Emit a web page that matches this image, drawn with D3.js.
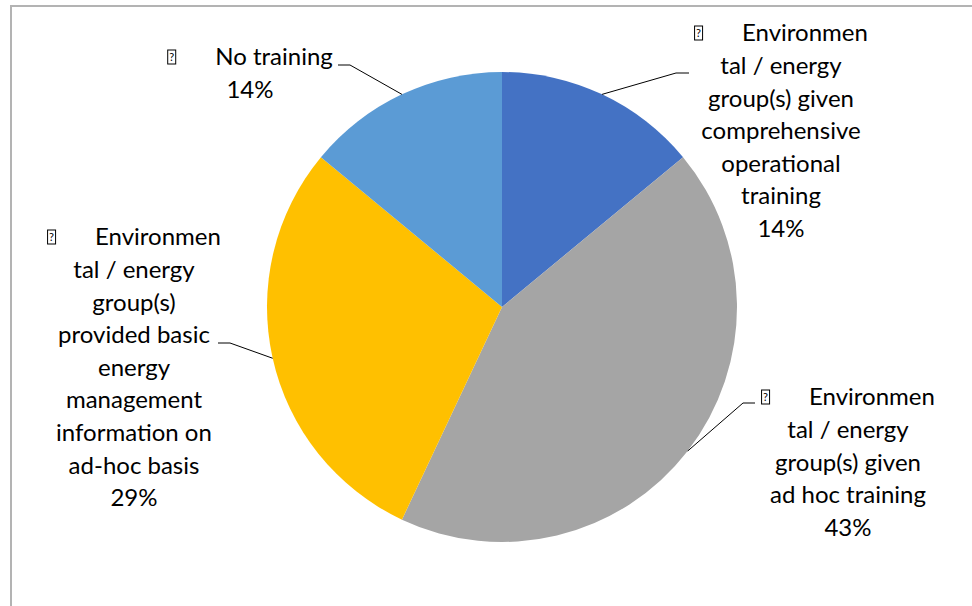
<!DOCTYPE html>
<html>
<head>
<meta charset="utf-8">
<script src="https://cdn.jsdelivr.net/npm/d3@7"></script>
<style>
  html, body { margin: 0; padding: 0; background: #fff; }
  svg { display: block; }
  text { font-family: Lato, "Open Sans", sans-serif; fill: #000; }
</style>
</head>
<body>
<svg id="chart" width="972" height="606"></svg>
<script>
// Training given to environmental / energy groups
const categories = [
  "Environmental / energy group(s) given comprehensive operational training",
  "Environmental / energy group(s) given ad hoc training",
  "Environmental / energy group(s) provided basic energy management information on ad-hoc basis",
  "No training"
];
const shares = [14, 43, 29, 14];
const percentLabels = ["14%", "43%", "29%", "14%"];
// label text as wrapped in the chart (first line follows the bullet glyph)
const labelLines = [
  ["Environmen", "tal / energy", "group(s) given", "comprehensive", "operational", "training"],
  ["Environmen", "tal / energy", "group(s) given", "ad hoc training"],
  ["Environmen", "tal / energy", "group(s)", "provided basic", "energy", "management", "information on", "ad-hoc basis"],
  ["No training"]
];
const sliceColors = ["#4472C4", "#A5A5A5", "#FFC000", "#5B9BD5"];

const W = 972, H = 606;
const cx = 502, cy = 307, R = 235;
const fontSize = 24, lineH = 32.6;

const svg = d3.select("#chart");

// chart area border (left and top edges visible)
svg.append("path")
  .attr("d", `M11,${H} L11,6 L${W},6`)
  .attr("fill", "none")
  .attr("stroke", "#b3b3b3")
  .attr("stroke-width", 2);

const pie = d3.pie().sort(null).value(d => d).startAngle(0).endAngle(2 * Math.PI);
const arcs = pie(shares);
const arc = d3.arc().innerRadius(0).outerRadius(R);

const g = svg.append("g").attr("transform", `translate(${cx},${cy})`);
g.selectAll("path.slice")
  .data(arcs)
  .join("path")
  .attr("class", "slice")
  .attr("d", arc)
  .attr("fill", (d, i) => sliceColors[i]);

// label placement: centre x, first-line centre y, elbow point of leader
const layout = [
  { x: 781, y: 33, elbow: [689, 73], end: [676, 73] },
  { x: 848, y: 397, elbow: [755, 403], end: [743, 403] },
  { x: 134, y: 237, elbow: [218, 343], end: [230, 343] },
  { x: 250, y: 57, elbow: [338, 65], end: [350, 65] }
];

// leader lines from the middle of each slice's rim
arcs.forEach((a, i) => {
  const mid = (a.startAngle + a.endAngle) / 2;
  const px = cx + R * Math.sin(mid), py = cy - R * Math.cos(mid);
  const L = layout[i];
  const pts = i < 2 ? [[px, py], L.end, L.elbow] : [L.elbow, L.end, [px, py]];
  svg.append("path")
    .attr("d", d3.line()(pts))
    .attr("fill", "none")
    .attr("stroke", "#000")
    .attr("stroke-width", 1);
});

const glyphW = 9, glyphH = 15, tabGap = 39;

arcs.forEach((a, i) => {
  const L = layout[i];
  const lines = labelLines[i].concat([percentLabels[i]]);
  const lg = svg.append("g").attr("class", "label");
  lines.forEach((ln, k) => {
    const y = L.y + k * lineH;
    if (k === 0) {
      // bullet glyph box followed by tabbed text
      const t = lg.append("text")
        .attr("y", y)
        .attr("dy", "0.35em")
        .attr("font-size", fontSize)
        .text(ln);
      const tw = t.node().getComputedTextLength();
      const total = glyphW + tabGap + tw;
      const x0 = L.x - total / 2;
      t.attr("x", x0 + glyphW + tabGap);
      lg.append("rect")
        .attr("x", x0 + 0.5).attr("y", y - glyphH / 2 + 0.5)
        .attr("width", glyphW - 1).attr("height", glyphH - 1)
        .attr("fill", "none").attr("stroke", "#000").attr("stroke-width", 1);
      lg.append("text")
        .attr("x", x0 + glyphW / 2).attr("y", y + 0.5)
        .attr("dy", "0.35em")
        .attr("text-anchor", "middle")
        .attr("font-size", 11)
        .attr("font-family", "DejaVu Sans, sans-serif")
        .text("?");
    } else {
      lg.append("text")
        .attr("x", L.x).attr("y", y)
        .attr("dy", "0.35em")
        .attr("text-anchor", "middle")
        .attr("font-size", fontSize)
        .text(ln);
    }
  });
});
</script>
</body>
</html>
